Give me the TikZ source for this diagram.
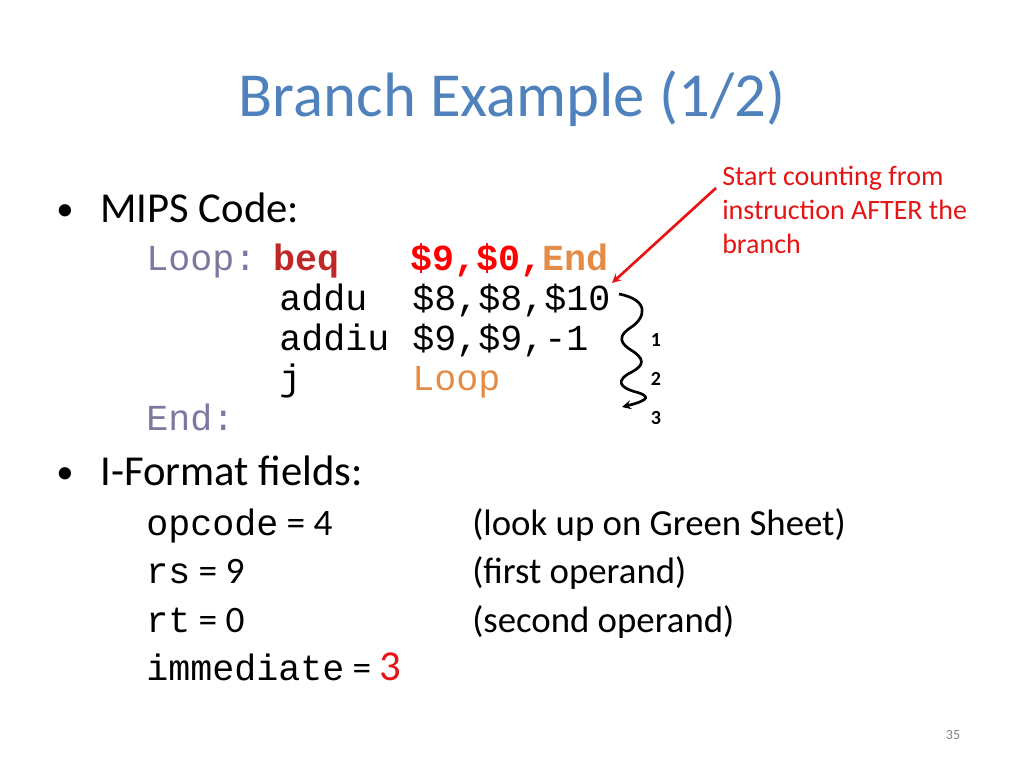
\documentclass[tikz,border=0pt]{standalone}
\usepackage{fontspec}
\setmainfont{Carlito}
\setmonofont{Liberation Mono}
\begin{document}
\begin{tikzpicture}[x=0.75pt,y=-0.75pt,
 txt/.style={anchor=base west,inner sep=0pt,font=\fontsize{32}{36}\selectfont},
 code/.style={anchor=base west,inner sep=0pt,font=\fontsize{27.5}{30}\selectfont\ttfamily},
 ann/.style={anchor=base west,inner sep=0pt,text=annred,font=\fontsize{21}{24}\selectfont},
 num/.style={anchor=base,inner sep=0pt,font=\fontsize{15}{17}\selectfont\bfseries}]
\definecolor{titleblue}{RGB}{79,129,189}
\definecolor{lbl}{RGB}{128,118,160}
\definecolor{darkred}{RGB}{192,40,40}
\definecolor{orng}{RGB}{228,140,70}
\definecolor{annred}{RGB}{230,20,20}
\useasboundingbox (0,0) rectangle (1024,768);
\node[anchor=base,inner sep=0pt,text=titleblue,font=\fontsize{47}{52}\selectfont] (title) at (512,116) {Branch Example (1/2)};
\node[txt,font=\fontsize{26}{30}\selectfont] (b1) at (56,220) {\textbullet};
\node[txt] (mips) at (100,222) {MIPS Code:};
\node[code,text=lbl] (loop) at (146,270) {Loop:};
\node[code,text=darkred] (beq) at (273,270) {\bfseries beq};
\node[code,text=red] (ops) at (410,270) {\bfseries \$9,\$0,\textcolor{orng}{End}};
\node[code] (addu) at (279,310) {addu};
\node[code] (addua) at (412,310) {\$8,\$8,\$10};
\node[code] (addiu) at (279,350) {addiu};
\node[code] (addiua) at (412,350) {\$9,\$9,-1};
\node[code] (j) at (279,390) {j};
\node[code,text=orng] (ja) at (412,390) {Loop};
\node[code,text=lbl] (end) at (146,430) {End:};
\node[txt,font=\fontsize{26}{30}\selectfont] (b2) at (56,483) {\textbullet};
\node[txt] (ifmt) at (100,485) {I-Format fields:};
\node[txt,font=\fontsize{28}{32}\selectfont] (f1) at (146,535) {\fontsize{27.5}{30}\selectfont\texttt{opcode} \fontsize{28}{32}\selectfont= 4};
\node[txt,font=\fontsize{28}{32}\selectfont] (f2) at (146,583) {\fontsize{27.5}{30}\selectfont\texttt{rs} \fontsize{28}{32}\selectfont= 9};
\node[txt,font=\fontsize{28}{32}\selectfont] (f3) at (146,632) {\fontsize{27.5}{30}\selectfont\texttt{rt} \fontsize{28}{32}\selectfont= 0};
\node[txt,font=\fontsize{28}{32}\selectfont] (f4) at (146,680) {\fontsize{27.5}{30}\selectfont\texttt{immediate} \fontsize{28}{32}\selectfont= \textcolor{annred}{\fontsize{32}{36}\selectfont 3}};
\node[txt,font=\fontsize{27.6}{32}\selectfont] (c1) at (472,535) {(look up on Green Sheet)};
\node[txt,font=\fontsize{27.6}{32}\selectfont] (c2) at (472,583) {(first operand)};
\node[txt,font=\fontsize{27.6}{32}\selectfont] (c3) at (472,632) {(second operand)};
\node[ann] (a1) at (722,185) {Start counting from};
\node[ann] (a2) at (722,219) {instruction AFTER the};
\node[ann] (a3) at (722,253) {branch};
\node[num] (n1) at (656,346) {1};
\node[num] (n2) at (656,385) {2};
\node[num] (n3) at (656,424) {3};
\node[anchor=base,inner sep=0pt,text=gray,font=\fontsize{10.5}{12}\selectfont] (pg) at (953,739) {35};
\coordinate (as) at (716,188);
\coordinate (ae) at (612,283);
\draw[annred,line width=2pt,-stealth] (as) -- (ae);
\coordinate (w0) at (619,294);
\coordinate (w3) at (622,407);
\draw[line width=2pt,-stealth] (w0) .. controls (650,300) and (646,318) .. (630,328)
 .. controls (612,340) and (628,348) .. (634,352)
 .. controls (648,362) and (640,368) .. (628,374)
 .. controls (612,384) and (628,390) .. (636,392)
 .. controls (650,396) and (650,400) .. (w3);
\end{tikzpicture}
\end{document}
